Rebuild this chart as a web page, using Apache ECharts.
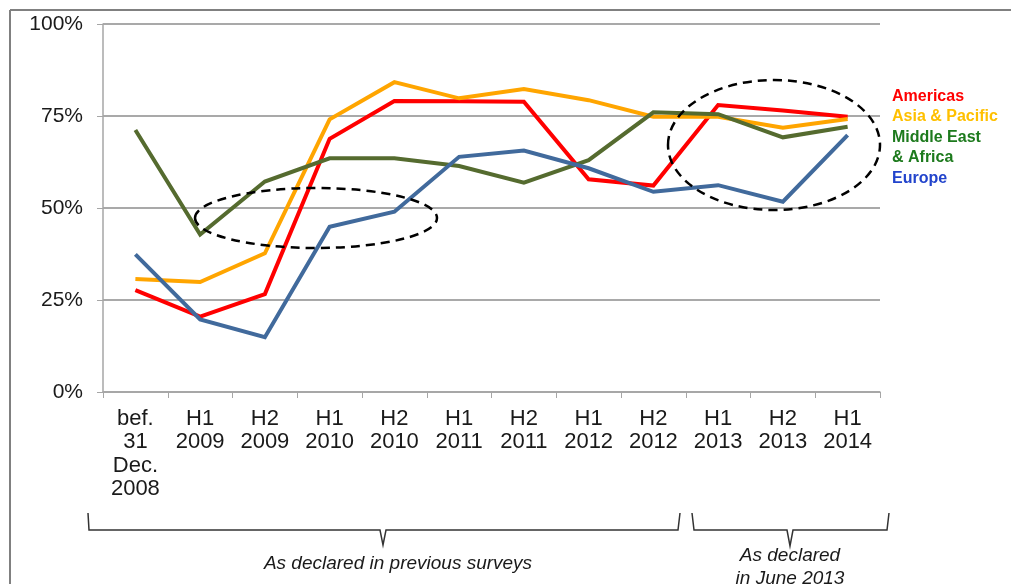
<!DOCTYPE html>
<html>
<head>
<meta charset="utf-8">
<script src="https://cdn.jsdelivr.net/npm/echarts@6/dist/echarts.min.js"></script>
<style>
  html, body { margin: 0; padding: 0; background: #fff; }
  #chart { width: 1011px; height: 584px; }
</style>
</head>
<body>
<div id="chart"></div>
<script>
var categories = ['bef.\n31\nDec.\n2008', 'H1\n2009', 'H2\n2009', 'H1\n2010', 'H2\n2010', 'H1\n2011',
  'H2\n2011', 'H1\n2012', 'H2\n2012', 'H1\n2013', 'H2\n2013', 'H1\n2014'];
var americas = [27.7, 20.5, 26.6, 68.8, 79.1, 79, 78.9, 57.8, 56.1, 78, 76.5, 74.8];
var asiaPacific = [30.7, 29.9, 37.7, 74.1, 84.2, 79.8, 82.3, 79.3, 74.8, 74.8, 71.8, 74.2];
var middleEastAfrica = [71.2, 42.8, 57.2, 63.5, 63.5, 61.4, 56.9, 63, 76, 75.5, 69.2, 72.1];
var europe = [37.4, 19.7, 14.9, 44.9, 49, 63.9, 65.6, 60.8, 54.4, 56.2, 51.7, 69.8];
var yTicks = [0, 25, 50, 75, 100];

var font = '"Liberation Sans", Arial, sans-serif';
var chart = echarts.init(document.getElementById('chart'));

function line(name, data, color) {
  return {
    name: name,
    type: 'line',
    data: data,
    symbol: 'none',
    lineStyle: { color: color, width: 4, join: 'miter' },
    itemStyle: { color: color }
  };
}

var option = {
  animation: false,
  textStyle: { fontFamily: font },
  grid: { left: 103, right: 131, top: 24, bottom: 192 },
  legend: {
    orient: 'vertical',
    left: 882,
    top: 81,
    icon: 'none',
    itemWidth: 0,
    itemHeight: 10,
    itemGap: 0,
    textStyle: { fontFamily: font, fontSize: 16, fontWeight: 'bold', lineHeight: 20.5, padding: 0 },
    data: [
      { name: 'Americas', textStyle: { color: '#ff0000' } },
      { name: 'Asia & Pacific', textStyle: { color: '#ffc000' } },
      { name: 'Middle East\n& Africa', textStyle: { color: '#1d7a1d' } },
      { name: 'Europe', textStyle: { color: '#2244cc' } }
    ]
  },
  xAxis: {
    type: 'category',
    data: categories,
    boundaryGap: true,
    axisLine: { lineStyle: { color: '#a6a6a6', width: 1.5 } },
    axisTick: { show: true, length: 6, lineStyle: { color: '#a6a6a6' } },
    axisLabel: { color: '#1a1a1a', fontSize: 22, lineHeight: 23.5, margin: 15, interval: 0 }
  },
  yAxis: {
    type: 'value',
    min: yTicks[0],
    max: yTicks[yTicks.length - 1],
    interval: 25,
    axisLine: { show: true, lineStyle: { color: '#a6a6a6', width: 1.5 } },
    axisTick: { show: true, length: 6, lineStyle: { color: '#a6a6a6' } },
    axisLabel: { color: '#1a1a1a', fontSize: 21, margin: 20, formatter: '{value}%' },
    splitLine: { lineStyle: { color: '#8c8c8c', width: 1.5 } }
  },
  series: [
    line('Americas', americas, '#ff0000'),
    line('Asia & Pacific', asiaPacific, '#ffa500'),
    line('Middle East\n& Africa', middleEastAfrica, '#556b2f'),
    line('Europe', europe, '#416a9c')
  ],
  graphic: [
    // slide frame
    { type: 'line', shape: { x1: 10, y1: 10, x2: 1011, y2: 10 }, style: { stroke: '#808080', lineWidth: 2 } },
    { type: 'line', shape: { x1: 10, y1: 10, x2: 10, y2: 584 }, style: { stroke: '#808080', lineWidth: 2 } },
    // dashed ellipses
    { type: 'ellipse', shape: { cx: 316, cy: 218, rx: 121, ry: 30 }, z: 10,
      style: { fill: null, stroke: '#000', lineWidth: 2.5, lineDash: [9, 6] } },
    { type: 'ellipse', shape: { cx: 774, cy: 145, rx: 106, ry: 65 }, z: 10,
      style: { fill: null, stroke: '#000', lineWidth: 2.5, lineDash: [9, 6] } },
    // braces
    { type: 'polyline', shape: { points: [[88, 513], [89, 530], [380, 530], [383, 545], [386, 530], [678, 530], [680, 513]] },
      style: { fill: null, stroke: '#333', lineWidth: 1.5 } },
    { type: 'polyline', shape: { points: [[692, 513], [694, 530], [787, 530], [790, 546], [793, 530], [887, 530], [889, 513]] },
      style: { fill: null, stroke: '#333', lineWidth: 1.5 } },
    { type: 'text',
      style: { text: 'As declared in previous surveys', x: 398, y: 552, align: 'center', verticalAlign: 'top',
        lineHeight: 23, font: 'italic 19px ' + font, fill: '#1a1a1a' } },
    { type: 'text',
      style: { text: 'As declared\nin June 2013', x: 790, y: 544, align: 'center', verticalAlign: 'top',
        lineHeight: 23, font: 'italic 19px ' + font, fill: '#1a1a1a' } }
  ]
};
option && chart.setOption(option);
</script>
</body>
</html>
